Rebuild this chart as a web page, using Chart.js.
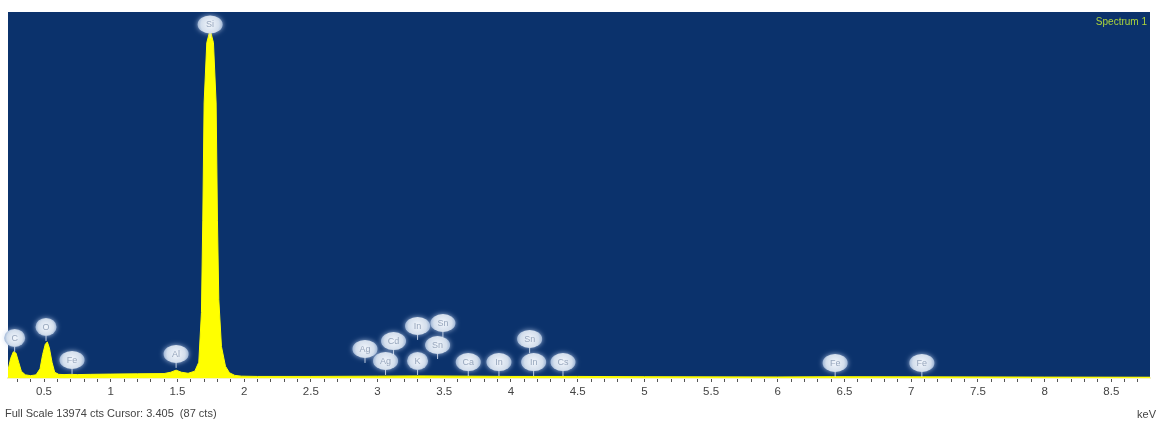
<!DOCTYPE html>
<html lang="en">
<head>
  <meta charset="UTF-8" />
  <title>Spectrum 1</title>
  <script src="https://cdn.jsdelivr.net/npm/chart.js"></script>
  <style>
    html, body { margin: 0; padding: 0; background: #ffffff; }
    #wrap { position: relative; width: 1156px; height: 423px; }
  </style>
</head>
<body>
  <div id="wrap">
    <canvas id="spec"></canvas>
  </div>

  <script>
    // spectrum (keV, counts)
    const energy = [0.23, 0.25, 0.27, 0.29, 0.31, 0.33, 0.36, 0.40, 0.44, 0.47,
      0.49, 0.51, 0.525, 0.54, 0.56, 0.58, 0.61, 0.65, 0.70, 0.75,
      0.85, 1.0, 1.2, 1.4, 1.45, 1.49, 1.53, 1.58, 1.63, 1.66,
      1.68, 1.69, 1.70, 1.72, 1.745, 1.77, 1.79, 1.80, 1.81, 1.83,
      1.86, 1.89, 1.93, 1.98, 2.1, 2.5, 3.0, 3.3,
      3.7, 4.0, 4.5, 5.0, 6.0, 6.4, 7.0, 8.0, 8.79];
    const counts = [300, 750, 1000, 950, 600, 260, 120, 90, 120, 350,
      900, 1300, 1375, 1150, 600, 220, 140, 130, 140, 130,
      140, 150, 160, 170, 220, 300, 220, 180, 260, 600,
      2500, 6000, 10500, 12800, 13300, 12800, 10500, 6000, 3000, 1200,
      450, 200, 100, 70, 60, 60, 70, 80,
      70, 60, 60, 50, 40, 50, 45, 35, 30];

    // peak labels: energy, element, height of the bubble (cts)
    const peakEnergy = [0.28, 0.515, 0.71, 1.49, 1.745, 2.906, 3.06, 3.12, 3.30, 3.49,
      3.45, 3.30, 3.68, 3.91, 4.14, 4.17, 4.39, 6.43, 7.08];
    const peakName = ["C", "O", "Fe", "Al", "Si", "Ag", "Ag", "Cd", "In", "Sn",
      "Sn", "K", "Ca", "In", "Sn", "In", "Cs", "Fe", "Fe"];
    const peakLevel = [1530, 1950, 690, 920, 13500, 1110, 650, 1410, 1990, 2100,
      1260, 650, 610, 610, 1490, 610, 610, 575, 575];

    // axis
    const tickLabels = ["0.5", "1", "1.5", "2", "2.5", "3", "3.5", "4", "4.5",
      "5", "5.5", "6", "6.5", "7", "7.5", "8", "8.5"];
    const fullScale = 13974;
    const xMin = 0.23, xMax = 8.79;

    const points = energy.map((e, i) => ({ x: e, y: counts[i] }));

    // dark plot background
    const plotBg = {
      id: 'plotBg',
      beforeDraw(chart) {
        const { ctx, chartArea: a } = chart;
        ctx.save();
        ctx.fillStyle = '#0b326c';
        ctx.fillRect(a.left, a.top, a.right - a.left, a.bottom - a.top);
        ctx.restore();
      }
    };

    // element bubbles + texts
    const peakTags = {
      id: 'peakTags',
      afterDatasetsDraw(chart) {
        const { ctx, scales: { x, y }, chartArea: a } = chart;
        ctx.save();
        peakEnergy.forEach((e, i) => {
          const px = x.getPixelForValue(e);
          const py = y.getPixelForValue(peakLevel[i]);
          const rx = peakName[i].length > 1 ? 12.5 : 10.5;
          const ry = 9;
          // stem
          ctx.strokeStyle = 'rgba(225,235,248,0.85)';
          ctx.lineWidth = 1;
          ctx.beginPath();
          ctx.moveTo(px, py + ry);
          ctx.lineTo(px, py + ry + 5);
          ctx.stroke();
          // bubble
          const g = ctx.createRadialGradient(px, py, 1, px, py, rx);
          g.addColorStop(0, '#eef3fa');
          g.addColorStop(0.7, '#d3deec');
          g.addColorStop(1, '#9fb6d6');
          ctx.shadowColor = 'rgba(200,215,240,0.8)';
          ctx.shadowBlur = 5;
          ctx.fillStyle = g;
          ctx.beginPath();
          ctx.ellipse(px, py, rx, ry, 0, 0, Math.PI * 2);
          ctx.fill();
          ctx.shadowBlur = 0;
          ctx.fillStyle = '#97a6bc';
          ctx.font = '9px "Liberation Sans", Arial, sans-serif';
          ctx.textAlign = 'center';
          ctx.textBaseline = 'middle';
          ctx.fillText(peakName[i], px, py + 0.5);
        });

        ctx.fillStyle = '#acd43c';
        ctx.font = '10px "Liberation Sans", Arial, sans-serif';
        ctx.textAlign = 'right';
        ctx.textBaseline = 'middle';
        ctx.fillText('Spectrum 1', a.right - 3, a.top + 10);

        ctx.fillStyle = '#444';
        ctx.font = '11px "Liberation Sans", Arial, sans-serif';
        ctx.textAlign = 'left';
        ctx.fillText('Full Scale ' + fullScale + ' cts Cursor: 3.405  (87 cts)', 5, 414);
        ctx.textAlign = 'right';
        ctx.fillText('keV', 1156, 415);
        ctx.restore();
      }
    };

    const chart = new Chart(document.getElementById('spec'), {
      type: 'line',
      data: {
        datasets: [{
          label: 'Spectrum 1',
          data: points,
          borderColor: '#ffff00',
          backgroundColor: '#ffff00',
          borderWidth: 1,
          fill: 'origin',
          pointRadius: 0,
          tension: 0
        }]
      },
      options: {
        responsive: true,
        maintainAspectRatio: false,
        animation: false,
        layout: { padding: { left: 8, right: 6, top: 12, bottom: 0 } },
        plugins: {
          legend: { display: false },
          tooltip: { enabled: false }
        },
        scales: {
          x: {
            type: 'linear',
            min: xMin,
            max: xMax,
            afterBuildTicks(scale) {
              const t = [];
              for (let k = 3; k <= 87; k++) t.push({ value: k / 10 });
              scale.ticks = t;
            },
            afterFit(scale) { scale.height = 45; },
            border: { display: true, color: '#f4f1c8', width: 2 },
            grid: { drawOnChartArea: false, color: '#555', tickLength: 4 },
            ticks: {
              autoSkip: false,
              maxRotation: 0,
              padding: 3,
              color: '#444',
              font: { family: '"Liberation Sans", Arial, sans-serif', size: 11.5 },
              callback(v) {
                const k = Math.round(v * 2);
                if (Math.abs(v * 2 - k) > 1e-6) return '';
                return tickLabels[k - 1];
              }
            }
          },
          y: {
            display: false,
            min: 0,
            max: fullScale
          }
        }
      },
      plugins: [plotBg, peakTags]
    });
  </script>
</body>
</html>
